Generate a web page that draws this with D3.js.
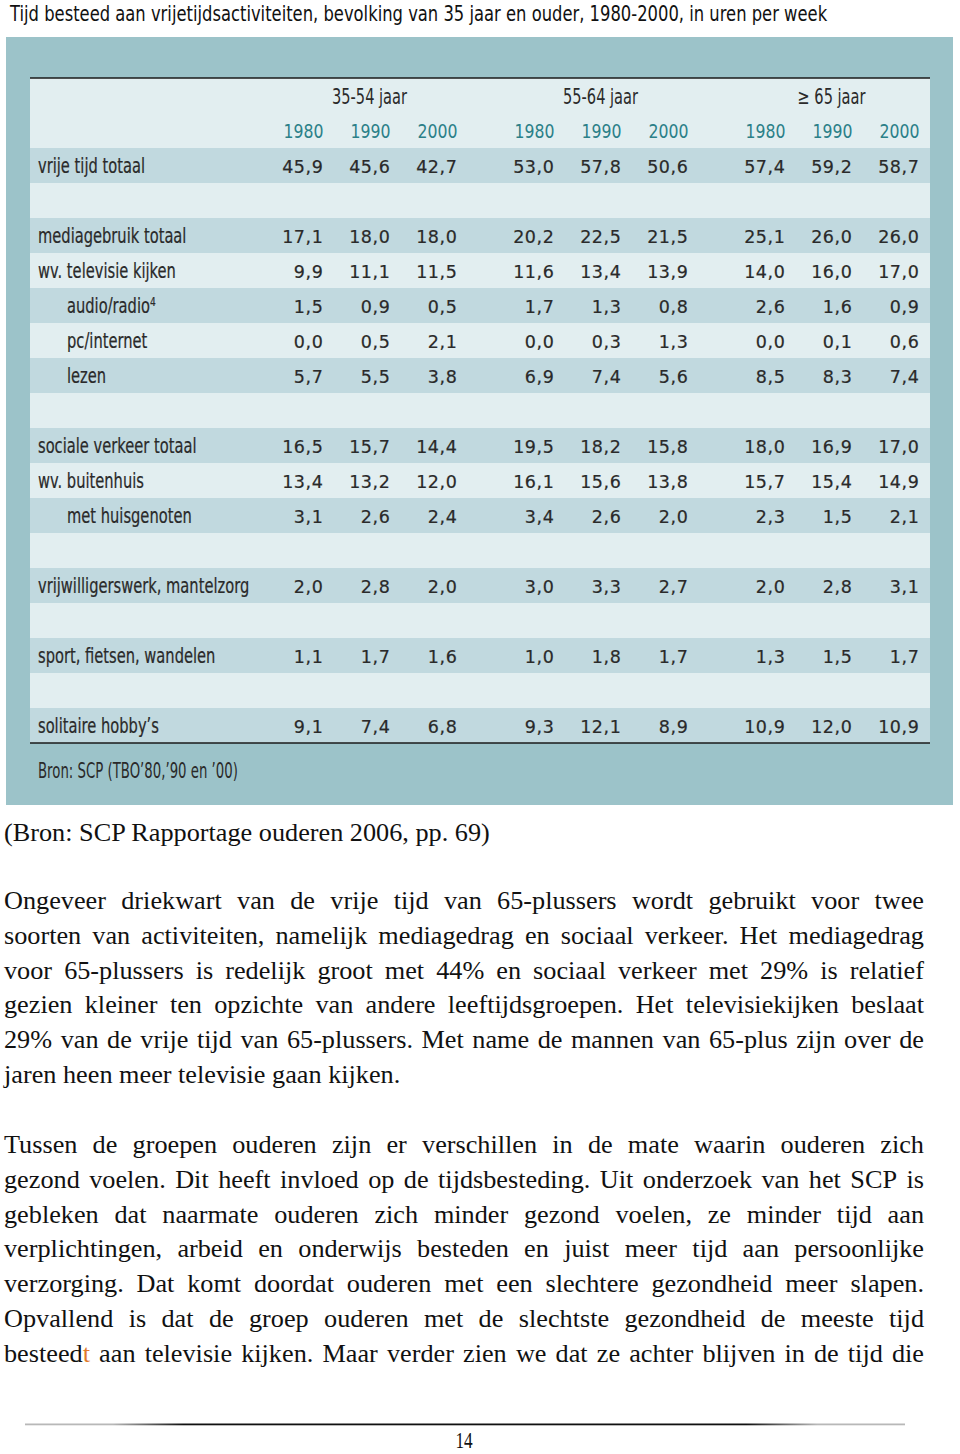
<!DOCTYPE html>
<html><head><meta charset="utf-8">
<script src="https://cdn.jsdelivr.net/npm/d3@7"></script>
<style>
html,body{margin:0;padding:0;background:#fff;}
svg{display:block;}
</style></head>
<body>
<script>
// ---------------- DATA ----------------
const title = "Tijd besteed aan vrijetijdsactiviteiten, bevolking van 35 jaar en ouder, 1980-2000, in uren per week";
const ageGroups = ["35-54 jaar", "55-64 jaar", "\u2265 65 jaar"];
const years = ["1980", "1990", "2000"];
const categories = ["vrije tijd totaal", "", "mediagebruik totaal", "wv. televisie kijken", "audio/radio", "pc/internet", "lezen", "",
  "sociale verkeer totaal", "wv. buitenhuis", "met huisgenoten", "", "vrijwilligerswerk, mantelzorg", "", "sport, fietsen, wandelen", "", "solitaire hobby\u2019s"];
const subCategories = ["audio/radio", "pc/internet", "lezen", "met huisgenoten"];
const footnoted = ["audio/radio"];
const v35_54_1980 = [45.9, null, 17.1, 9.9, 1.5, 0.0, 5.7, null, 16.5, 13.4, 3.1, null, 2.0, null, 1.1, null, 9.1];
const v35_54_1990 = [45.6, null, 18.0, 11.1, 0.9, 0.5, 5.5, null, 15.7, 13.2, 2.6, null, 2.8, null, 1.7, null, 7.4];
const v35_54_2000 = [42.7, null, 18.0, 11.5, 0.5, 2.1, 3.8, null, 14.4, 12.0, 2.4, null, 2.0, null, 1.6, null, 6.8];
const v55_64_1980 = [53.0, null, 20.2, 11.6, 1.7, 0.0, 6.9, null, 19.5, 16.1, 3.4, null, 3.0, null, 1.0, null, 9.3];
const v55_64_1990 = [57.8, null, 22.5, 13.4, 1.3, 0.3, 7.4, null, 18.2, 15.6, 2.6, null, 3.3, null, 1.8, null, 12.1];
const v55_64_2000 = [50.6, null, 21.5, 13.9, 0.8, 1.3, 5.6, null, 15.8, 13.8, 2.0, null, 2.7, null, 1.7, null, 8.9];
const v65_1980 = [57.4, null, 25.1, 14.0, 2.6, 0.0, 8.5, null, 18.0, 15.7, 2.3, null, 2.0, null, 1.3, null, 10.9];
const v65_1990 = [59.2, null, 26.0, 16.0, 1.6, 0.1, 8.3, null, 16.9, 15.4, 1.5, null, 2.8, null, 1.5, null, 12.0];
const v65_2000 = [58.7, null, 26.0, 17.0, 0.9, 0.6, 7.4, null, 17.0, 14.9, 2.1, null, 3.1, null, 1.7, null, 10.9];
const source = "Bron: SCP (TBO\u201980,\u201990 en \u201900)";
const caption = "(Bron: SCP Rapportage ouderen 2006, pp. 69)";
const paragraph1 = [
  "Ongeveer driekwart van de vrije tijd van 65-plussers wordt gebruikt voor twee",
  "soorten van activiteiten, namelijk mediagedrag en sociaal verkeer. Het mediagedrag",
  "voor 65-plussers is redelijk groot met 44% en sociaal verkeer met 29% is relatief",
  "gezien kleiner ten opzichte van andere leeftijdsgroepen. Het televisiekijken beslaat",
  "29% van de vrije tijd van 65-plussers. Met name de mannen van 65-plus zijn over de",
  "jaren heen meer televisie gaan kijken."
];
const paragraph2 = [
  "Tussen de groepen ouderen zijn er verschillen in de mate waarin ouderen zich",
  "gezond voelen. Dit heeft invloed op de tijdsbesteding. Uit onderzoek van het SCP is",
  "gebleken dat naarmate ouderen zich minder gezond voelen, ze minder tijd aan",
  "verplichtingen, arbeid en onderwijs besteden en juist meer tijd aan persoonlijke",
  "verzorging. Dat komt doordat ouderen met een slechtere gezondheid meer slapen.",
  "Opvallend is dat de groep ouderen met de slechtste gezondheid de meeste tijd",
  "besteedt aan televisie kijken. Maar verder zien we dat ze achter blijven in de tijd die"
];
const pageNumber = "14";

// --------------- BUILD ---------------
const series = {
  "35-54 jaar": [v35_54_1980, v35_54_1990, v35_54_2000],
  "55-64 jaar": [v55_64_1980, v55_64_1990, v55_64_2000],
  "\u2265 65 jaar": [v65_1980, v65_1990, v65_2000]
};
const cells = [];
ageGroups.forEach(g => years.forEach((yr, yi) => series[g][yi].forEach((v, ri) => {
  if (v !== null) cells.push({group: g, year: yr, row: ri, value: v});
})));

const W = 960, H = 1454;
const sans = "'Liberation Sans Narrow','DejaVu Sans','Noto Sans',sans-serif";
const numFont = "'DejaVu Sans',Verdana,sans-serif";
const serif = "'Liberation Serif','DejaVu Serif',serif";
const ink = "#2a2a2a";

const svg = d3.select("body").append("svg").attr("width", W).attr("height", H);
svg.append("rect").attr("width", W).attr("height", H).attr("fill", "#fff");

function squeeze(str, fs, target, family) {
  const tmp = svg.append("text").attr("font-family", family).attr("font-size", fs).text(str);
  const w = tmp.node().getComputedTextLength();
  tmp.remove();
  return target / w;
}
function condText(parent, x, y, str, fs, k, family) {
  return parent.append("text").attr("transform", `translate(${x},${y}) scale(${k},1)`)
    .attr("font-family", family || sans).attr("font-size", fs).text(str);
}

// title
const kTitle = squeeze(title, 22, 818, sans);
condText(svg, 10, 21, title, 22, kTitle).attr("fill", "#111");

// panel
const panel = {x: 6, y: 37, w: 947, h: 768};
svg.append("rect").attr("x", panel.x).attr("y", panel.y).attr("width", panel.w).attr("height", panel.h).attr("fill", "#9cc3c9");
const tbl = {x0: 30, x1: 930, top: 78, headBottom: 148, bottom: 743};
svg.append("rect").attr("x", tbl.x0).attr("y", tbl.top).attr("width", tbl.x1 - tbl.x0).attr("height", tbl.headBottom - tbl.top).attr("fill", "#e2eef0");

const y = d3.scaleBand().domain(d3.range(categories.length)).range([tbl.headBottom, tbl.bottom]).padding(0);
const gx = d3.scaleBand().domain(ageGroups).range([254, 947]).padding(0);
const yx = d3.scalePoint().domain(years).range([-67, 67]);
const colRight = (g, yr) => gx(g) + gx.bandwidth() / 2 + yx(yr) + 21;

svg.append("g").selectAll("rect").data(categories).join("rect")
  .attr("x", tbl.x0).attr("width", tbl.x1 - tbl.x0)
  .attr("y", (d, i) => y(i)).attr("height", y.bandwidth())
  .attr("fill", (d, i) => i % 2 === 0 ? "#c1d9df" : "#e2eef0");

svg.append("line").attr("x1", tbl.x0).attr("x2", tbl.x1).attr("y1", tbl.top).attr("y2", tbl.top).attr("stroke", "#1a1a1a").attr("stroke-width", 1.5);
svg.append("line").attr("x1", tbl.x0).attr("x2", tbl.x1).attr("y1", tbl.bottom).attr("y2", tbl.bottom).attr("stroke", "#1a1a1a").attr("stroke-width", 1.5);

// header
const kGroup = squeeze("35-54 jaar", 21, 75, sans);
const gHead = svg.append("g").attr("fill", ink);
ageGroups.forEach(g => condText(gHead, gx(g) + gx.bandwidth() / 2, 104, g, 21, kGroup).attr("text-anchor", "middle"));
const kYear = squeeze("1980", 20, 40, sans);
const gYears = svg.append("g").attr("fill", "#2b8088");
ageGroups.forEach(g => years.forEach(yr => condText(gYears, colRight(g, yr), 138, yr, 20, kYear).attr("text-anchor", "end")));

// row labels
const kLab = squeeze("vrije tijd totaal", 21, 107, sans);
const gLab = svg.append("g").attr("fill", ink).attr("stroke", ink).attr("stroke-width", 0.25);
categories.forEach((c, i) => {
  if (!c) return;
  const tx = condText(gLab, subCategories.includes(c) ? 67 : 38, y(i) + 25, "", 21, kLab);
  tx.append("tspan").text(c);
  if (footnoted.includes(c)) tx.append("tspan").attr("dy", -7).attr("font-size", 13).text("4");
});

// values
const fmt = v => d3.format(".1f")(v).replace(".", ",");
svg.append("g").selectAll("text").data(cells).join("text")
  .attr("x", d => colRight(d.group, d.year)).attr("y", d => y(d.row) + 25)
  .attr("text-anchor", "end").attr("font-family", numFont).attr("font-size", 17.5)
  .attr("letter-spacing", 0.6).attr("fill", ink).attr("stroke", ink).attr("stroke-width", 0.2)
  .text(d => fmt(d.value));

// source
const kSrc = squeeze(source, 20.5, 200, sans);
condText(svg, 38, 778, source, 20.5, kSrc).attr("fill", ink);

// body text
const cap = svg.append("text").attr("x", 4).attr("y", 841).attr("font-family", serif).attr("font-size", 24).attr("fill", "#111").text(caption);
const fs = 24 * 486 / cap.node().getComputedTextLength();
cap.attr("font-size", fs);

function justifyLine(text, yPos, justify) {
  const words = text.split(" ");
  const g = svg.append("g");
  const nodes = words.map(w => {
    const tx = g.append("text").attr("y", yPos).attr("font-family", serif).attr("font-size", fs).attr("fill", "#111");
    if (w === "besteedt") {
      tx.append("tspan").text("besteed");
      tx.append("tspan").attr("fill", "#e07a2c").text("t");
    } else tx.text(w);
    return tx;
  });
  const widths = nodes.map(n => n.node().getComputedTextLength());
  const total = d3.sum(widths);
  const left = 4, right = 924;
  const space = justify ? (right - left - total) / (words.length - 1) : fs * 0.25;
  let x = left;
  nodes.forEach((n, i) => { n.attr("x", x); x += widths[i] + space; });
}
paragraph1.forEach((l, i) => justifyLine(l, 909 + i * 34.8, i < paragraph1.length - 1));
paragraph2.forEach((l, i) => justifyLine(l, 1153 + i * 34.8, true));

// footer rule and page number
const rule = svg.append("defs").append("linearGradient").attr("id", "rule");
rule.append("stop").attr("offset", "0%").attr("stop-color", "#b8b8b8");
rule.append("stop").attr("offset", "10%").attr("stop-color", "#b8b8b8");
rule.append("stop").attr("offset", "18%").attr("stop-color", "#111");
rule.append("stop").attr("offset", "82%").attr("stop-color", "#111");
rule.append("stop").attr("offset", "90%").attr("stop-color", "#b8b8b8");
rule.append("stop").attr("offset", "100%").attr("stop-color", "#b8b8b8");
svg.append("rect").attr("x", 25).attr("y", 1423.5).attr("width", 880).attr("height", 1.8).attr("fill", "url(#rule)");
condText(svg, 464, 1448, pageNumber, 23, 0.75, serif).attr("text-anchor", "middle").attr("fill", "#111");
</script>
</body></html>
